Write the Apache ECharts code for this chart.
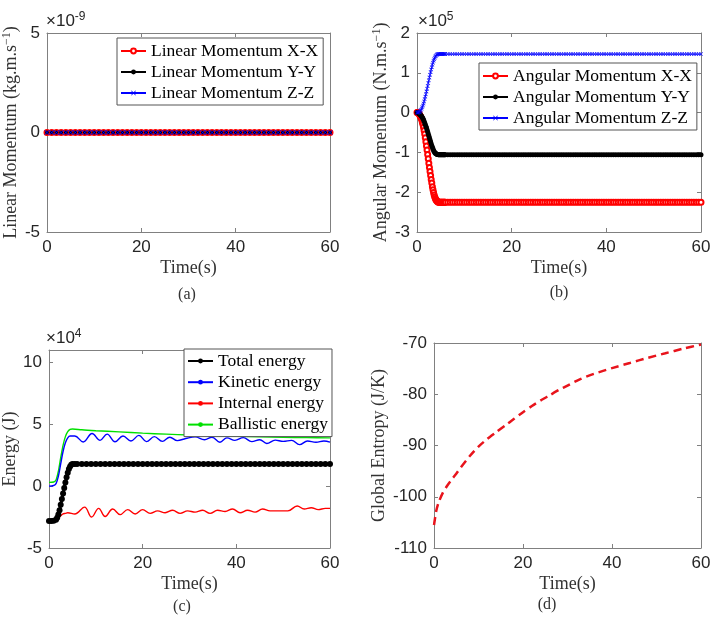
<!DOCTYPE html>
<html>
<head>
<meta charset="utf-8">
<script src="https://cdn.jsdelivr.net/npm/echarts@6/dist/echarts.min.js"></script>
<style>html,body{margin:0;padding:0;background:#fff}#c{width:714px;height:624px}</style>
</head>
<body>
<div id="c"></div>
<script>
// ---------- Panel (a): linear momentum (x1e-9) ----------
const timeA = [0,1,2,3,4,5,6,7,8,9,10,11,12,13,14,15,16,17,18,19,20,21,22,23,24,25,26,27,28,29,30,
  31,32,33,34,35,36,37,38,39,40,41,42,43,44,45,46,47,48,49,50,51,52,53,54,55,56,57,58,59,60];
const linMomXX = [0,0,0,0,0,0,0,0,0,0,0,0,0,0,0,0,0,0,0,0,0,0,0,0,0,0,0,0,0,0,0,0,0,0,0,0,0,0,0,0,0,0,0,0,0,0,0,0,0,0,0,0,0,0,0,0,0,0,0,0,0];
const linMomYY = [0,0,0,0,0,0,0,0,0,0,0,0,0,0,0,0,0,0,0,0,0,0,0,0,0,0,0,0,0,0,0,0,0,0,0,0,0,0,0,0,0,0,0,0,0,0,0,0,0,0,0,0,0,0,0,0,0,0,0,0,0];
const linMomZZ = [0,0,0,0,0,0,0,0,0,0,0,0,0,0,0,0,0,0,0,0,0,0,0,0,0,0,0,0,0,0,0,0,0,0,0,0,0,0,0,0,0,0,0,0,0,0,0,0,0,0,0,0,0,0,0,0,0,0,0,0,0];

// ---------- Panel (b): angular momentum (x1e5) ----------
const timeB = [0,0.125,0.25,0.375,0.5,0.625,0.75,0.875,1,1.125,1.25,1.375,1.5,1.625,1.75,1.875,2,2.125,2.25,2.375,2.5,2.625,2.75,2.875,
  3,3.125,3.25,3.375,3.5,3.625,3.75,3.875,4,4.125,4.25,4.375,4.5,
  4.625,4.75,4.875,5,5.125,5.25,5.375,5.5,5.625,5.75,5.875,6,
  6.5,7,7.5,8,8.5,9,9.5,10,10.5,11,11.5,12,
  12.5,13,13.5,14,14.5,15,15.5,16,16.5,17,17.5,18,
  18.5,19,19.5,20,20.5,21,21.5,22,22.5,23,23.5,24,
  24.5,25,25.5,26,26.5,27,27.5,28,28.5,29,29.5,30,
  30.5,31,31.5,32,32.5,33,33.5,34,34.5,35,35.5,36,
  36.5,37,37.5,38,38.5,39,39.5,40,40.5,41,41.5,42,
  42.5,43,43.5,44,44.5,45,45.5,46,46.5,47,47.5,48,
  48.5,49,49.5,50,50.5,51,51.5,52,52.5,53,53.5,54,
  54.5,55,55.5,56,56.5,57,57.5,58,58.5,59,59.5,60];
const angMomXX = [0,0,-0.01,-0.02,-0.04,-0.07,-0.1,-0.14,-0.18,-0.24,-0.3,-0.37,-0.45,-0.54,-0.63,-0.73,-0.84,-0.94,-1.05,-1.16,-1.27,-1.38,-1.48,-1.58,
  -1.68,-1.77,-1.86,-1.94,-2.01,-2.07,-2.12,-2.16,-2.19,-2.21,-2.23,-2.24,-2.25,
  -2.25,-2.25,-2.25,-2.25,-2.25,-2.25,-2.25,-2.25,-2.25,-2.25,-2.25,-2.25,
  -2.25,-2.25,-2.25,-2.25,-2.25,-2.25,-2.25,-2.25,-2.25,-2.25,-2.25,-2.25,
  -2.25,-2.25,-2.25,-2.25,-2.25,-2.25,-2.25,-2.25,-2.25,-2.25,-2.25,-2.25,
  -2.25,-2.25,-2.25,-2.25,-2.25,-2.25,-2.25,-2.25,-2.25,-2.25,-2.25,-2.25,
  -2.25,-2.25,-2.25,-2.25,-2.25,-2.25,-2.25,-2.25,-2.25,-2.25,-2.25,-2.25,
  -2.25,-2.25,-2.25,-2.25,-2.25,-2.25,-2.25,-2.25,-2.25,-2.25,-2.25,-2.25,
  -2.25,-2.25,-2.25,-2.25,-2.25,-2.25,-2.25,-2.25,-2.25,-2.25,-2.25,-2.25,
  -2.25,-2.25,-2.25,-2.25,-2.25,-2.25,-2.25,-2.25,-2.25,-2.25,-2.25,-2.25,
  -2.25,-2.25,-2.25,-2.25,-2.25,-2.25,-2.25,-2.25,-2.25,-2.25,-2.25,-2.25,
  -2.25,-2.25,-2.25,-2.25,-2.25,-2.25,-2.25,-2.25,-2.25,-2.25,-2.25,-2.25];
const angMomYY = [0,0,-0.01,-0.02,-0.03,-0.045,-0.06,-0.08,-0.1,-0.12,-0.15,-0.18,-0.22,-0.26,-0.3,-0.34,-0.38,-0.43,-0.48,-0.53,-0.58,-0.63,-0.68,-0.73,
  -0.78,-0.83,-0.87,-0.91,-0.95,-0.98,-1.0,-1.02,-1.03,-1.04,-1.05,-1.055,-1.06,
  -1.06,-1.06,-1.06,-1.06,-1.06,-1.06,-1.06,-1.06,-1.06,-1.06,-1.06,-1.06,
  -1.06,-1.06,-1.06,-1.06,-1.06,-1.06,-1.06,-1.06,-1.06,-1.06,-1.06,-1.06,
  -1.06,-1.06,-1.06,-1.06,-1.06,-1.06,-1.06,-1.06,-1.06,-1.06,-1.06,-1.06,
  -1.06,-1.06,-1.06,-1.06,-1.06,-1.06,-1.06,-1.06,-1.06,-1.06,-1.06,-1.06,
  -1.06,-1.06,-1.06,-1.06,-1.06,-1.06,-1.06,-1.06,-1.06,-1.06,-1.06,-1.06,
  -1.06,-1.06,-1.06,-1.06,-1.06,-1.06,-1.06,-1.06,-1.06,-1.06,-1.06,-1.06,
  -1.06,-1.06,-1.06,-1.06,-1.06,-1.06,-1.06,-1.06,-1.06,-1.06,-1.06,-1.06,
  -1.06,-1.06,-1.06,-1.06,-1.06,-1.06,-1.06,-1.06,-1.06,-1.06,-1.06,-1.06,
  -1.06,-1.06,-1.06,-1.06,-1.06,-1.06,-1.06,-1.06,-1.06,-1.06,-1.06,-1.06,
  -1.06,-1.06,-1.06,-1.06,-1.06,-1.06,-1.06,-1.06,-1.06,-1.06,-1.06,-1.06];
const angMomZZ = [0,0,0,0.01,0.02,0.03,0.05,0.07,0.1,0.14,0.18,0.23,0.28,0.34,0.4,0.46,0.53,0.6,0.67,0.74,0.81,0.88,0.95,1.02,
  1.08,1.14,1.2,1.25,1.3,1.34,1.38,1.41,1.43,1.45,1.46,1.465,1.47,
  1.47,1.47,1.47,1.47,1.47,1.47,1.47,1.47,1.47,1.47,1.47,1.47,
  1.47,1.47,1.47,1.47,1.47,1.47,1.47,1.47,1.47,1.47,1.47,1.47,
  1.47,1.47,1.47,1.47,1.47,1.47,1.47,1.47,1.47,1.47,1.47,1.47,
  1.47,1.47,1.47,1.47,1.47,1.47,1.47,1.47,1.47,1.47,1.47,1.47,
  1.47,1.47,1.47,1.47,1.47,1.47,1.47,1.47,1.47,1.47,1.47,1.47,
  1.47,1.47,1.47,1.47,1.47,1.47,1.47,1.47,1.47,1.47,1.47,1.47,
  1.47,1.47,1.47,1.47,1.47,1.47,1.47,1.47,1.47,1.47,1.47,1.47,
  1.47,1.47,1.47,1.47,1.47,1.47,1.47,1.47,1.47,1.47,1.47,1.47,
  1.47,1.47,1.47,1.47,1.47,1.47,1.47,1.47,1.47,1.47,1.47,1.47,
  1.47,1.47,1.47,1.47,1.47,1.47,1.47,1.47,1.47,1.47,1.47,1.47];

// ---------- Panel (c): energies (x1e4) ----------
const timeTotal = [0,0.5,1,1.5,1.75,2,2.25,2.5,2.75,3,3.25,3.5,3.75,4,4.25,4.5,4.75,5,5.5,6,
  7,8,9,10,11,12,13,14,15,
  16,17,18,19,20,21,22,23,24,
  25,26,27,28,29,30,31,32,33,
  34,35,36,37,38,39,40,41,42,
  43,44,45,46,47,48,49,50,51,
  52,53,54,55,56,57,58,59,60];
const totalEnergy = [-2.82,-2.82,-2.8,-2.72,-2.55,-2.3,-1.95,-1.5,-1.05,-0.6,-0.15,0.3,0.72,1.08,1.38,1.58,1.72,1.78,1.78,1.78,
  1.78,1.78,1.78,1.78,1.78,1.78,1.78,1.78,1.78,
  1.78,1.78,1.78,1.78,1.78,1.78,1.78,1.78,1.78,
  1.78,1.78,1.78,1.78,1.78,1.78,1.78,1.78,1.78,
  1.78,1.78,1.78,1.78,1.78,1.78,1.78,1.78,1.78,
  1.78,1.78,1.78,1.78,1.78,1.78,1.78,1.78,1.78,
  1.78,1.78,1.78,1.78,1.78,1.78,1.78,1.78,1.78];
const timeKinetic = [0,1,1.5,2,2.5,3,3.5,4,4.5,5.5,7.3,9.2,10.9,12.4,14.1,15.8,17.5,19.2,20.8,22.5,24.2,25.8,27.4,29.2,31.2,33.2,34.8,36.5,38,39.7,41.5,43.3,45,46.5,48.3,50,51.8,53.5,55.2,57,58.7,60];
const kineticEnergy = [0,0.05,0.2,0.8,1.8,2.8,3.5,3.9,4.05,4.05,3.57,4.25,3.7,4.2,3.58,4.05,3.65,4.1,3.6,4.0,3.62,3.95,3.68,3.85,3.98,3.75,3.95,3.55,3.9,3.7,3.92,3.6,3.75,3.45,3.72,3.62,3.7,3.35,3.65,3.55,3.65,3.55];
const timeInternal = [0,1,1.5,2,2.5,3,3.5,4,5.5,7.6,9.1,10.6,12,13.6,15.2,16.8,18.4,20,21.6,23.2,24.8,26.4,28,29.6,31.2,32.8,34.4,36,37.6,39.2,40.8,42.4,44,45.6,47.2,49,51,53,54.5,56,57.5,59,60];
const internalEnergy = [-2.82,-2.8,-2.75,-2.6,-2.4,-2.25,-2.2,-2.15,-2.25,-1.7,-2.5,-1.8,-2.45,-1.85,-2.3,-1.9,-2.25,-1.9,-2.2,-2.0,-2.15,-1.95,-2.2,-2.0,-2.1,-1.95,-2.2,-1.95,-2.05,-1.85,-2.15,-1.95,-2.1,-1.85,-2.0,-2.0,-2.0,-1.6,-1.85,-1.75,-1.9,-1.8,-1.8];
const timeBallistic = [0,1,1.5,2,2.5,3,3.5,4,4.5,5,7,10,15,20,25,30,35,40,45,50,55,60];
const ballisticEnergy = [0.3,0.33,0.5,1.2,2.3,3.3,4.0,4.4,4.58,4.62,4.55,4.48,4.38,4.28,4.2,4.13,4.07,4.02,3.98,3.95,3.92,3.9];

// ---------- Panel (d): global entropy ----------
const timeEntropy = [0,0.5,1,2,3,4,5,6,8,10,12,14,16,18,20,22,24,26,28,30,33,36,40,44,48,52,56,60];
const globalEntropy = [-105.5,-102.8,-101.2,-99.2,-97.8,-96.6,-95.5,-94.3,-92.1,-90.2,-88.7,-87.4,-86.1,-84.8,-83.5,-82.3,-81.2,-80.2,-79.2,-78.3,-77.0,-76.0,-74.9,-73.9,-72.9,-72.0,-71.1,-70.3];

// ---------- tick settings ----------
const xTicks = [0, 60, 20];
const yTicksA = [-5, 5, 5];
const yTicksB = [-3, 2, 1];
const yTicksC = [-5, 11, 5];
const yTicksD = [-110, -70, 10];

function zip(t, v) { const n = Math.min(t.length, v.length); const o = []; for (let i = 0; i < n; i++) o.push([t[i], v[i]]); return o; }

const AX = '#808080';
const SERIF = 'Liberation Serif';
const SANS = 'Liberation Sans';

function axisBase(grid, ticks, pos, labels) {
  return {
    type: 'value', gridIndex: grid, position: pos,
    min: ticks[0], max: ticks[1], interval: ticks[2],
    axisLine: { show: true, onZero: false, lineStyle: { color: AX, width: 1 } },
    axisTick: { show: true, inside: true, length: 4, lineStyle: { color: AX } },
    splitLine: { show: false },
    axisLabel: labels ? { show: true, color: '#262626', fontFamily: SANS, fontSize: 17, margin: 7,
      formatter: v => (Math.abs(v / ticks[2] - Math.round(v / ticks[2])) < 1e-9 ? String(v) : '') } : { show: false }
  };
}
function nameStyle() {
  return { fontFamily: SERIF, fontSize: 18, color: '#333',
    rich: { sup: { fontFamily: SERIF, fontSize: 12, color: '#333', verticalAlign: 'top', lineHeight: 20 } } };
}
const xAxes = [];
const yAxes = [];
[0,1,2,3].forEach(g => {
  const x = axisBase(g, xTicks, 'bottom', true);
  x.name = 'Time(s)'; x.nameLocation = 'middle'; x.nameGap = 27; x.nameTextStyle = nameStyle();
  xAxes.push(x);
});
[0,1,2,3].forEach(g => xAxes.push(axisBase(g, xTicks, 'top', false)));
const yT = [yTicksA, yTicksB, yTicksC, yTicksD];
const yNames = ['Linear Momentum (kg.m.s{sup|−1})', 'Angular Momentum (N.m.s{sup|−1})', 'Energy (J)', 'Global Entropy (J/K)'];
const yGaps = [26, 26, 30, 46];
[0,1,2,3].forEach(g => {
  const y = axisBase(g, yT[g], 'left', true);
  y.name = yNames[g]; y.nameLocation = 'middle'; y.nameGap = yGaps[g]; y.nameTextStyle = nameStyle();
  yAxes.push(y);
});
[0,1,2,3].forEach(g => yAxes.push(axisBase(g, yT[g], 'right', false)));

const xMark = 'path://M0,1L1,0L5,4L9,0L10,1L6,5L10,9L9,10L5,6L1,10L0,9L4,5Z';
const legendText = { fontFamily: SERIF, fontSize: 17.5, color: '#000' };

const option = {
  animation: false,
  backgroundColor: '#fff',
  grid: [
    { left: 45, top: 33, width: 285, height: 199 },
    { left: 417, top: 33, width: 284, height: 199 },
    { left: 45, top: 350, width: 285, height: 198 },
    { left: 434, top: 343, width: 267, height: 205 }
  ],
  xAxis: xAxes,
  yAxis: yAxes,
  legend: [
    { left: 117, top: 38, orient: 'vertical', data: ['Linear Momentum X-X','Linear Momentum Y-Y','Linear Momentum Z-Z'],
      borderColor: '#555', borderWidth: 1, borderRadius: 0, backgroundColor: '#fff', padding: [4, 5, 3, 3], itemGap: 3,
      itemWidth: 25, itemHeight: 6, textStyle: legendText },
    { left: 479, top: 63, orient: 'vertical', data: ['Angular Momentum X-X','Angular Momentum Y-Y','Angular Momentum Z-Z'],
      borderColor: '#555', borderWidth: 1, borderRadius: 0, backgroundColor: '#fff', padding: [4, 5, 3, 3], itemGap: 3,
      itemWidth: 25, itemHeight: 6, textStyle: legendText },
    { left: 184, top: 349, orient: 'vertical', data: ['Total energy','Kinetic energy','Internal energy','Ballistic energy'],
      borderColor: '#555', borderWidth: 1, borderRadius: 0, backgroundColor: '#fff', padding: [3, 4, 3, 3], itemGap: 3.2,
      itemWidth: 25, itemHeight: 6, textStyle: legendText }
  ],
  series: [
    { name: 'Linear Momentum X-X', type: 'line', xAxisIndex: 0, yAxisIndex: 0, data: zip(timeA, linMomXX),
      symbol: 'emptyCircle', symbolSize: 5, lineStyle: { color: '#ff0000', width: 1 }, itemStyle: { color: '#ff0000', borderWidth: 1 } },
    { name: 'Linear Momentum Y-Y', type: 'line', xAxisIndex: 0, yAxisIndex: 0, data: zip(timeA, linMomYY),
      symbol: 'circle', symbolSize: 4, lineStyle: { color: '#000', width: 1 }, itemStyle: { color: '#000' } },
    { name: 'Linear Momentum Z-Z', type: 'line', xAxisIndex: 0, yAxisIndex: 0, data: zip(timeA, linMomZZ),
      symbol: xMark, symbolSize: 5, lineStyle: { color: '#0000ff', width: 3 }, itemStyle: { color: '#0000ff' } },

    { name: 'Angular Momentum X-X', type: 'line', xAxisIndex: 1, yAxisIndex: 1, data: zip(timeB, angMomXX),
      symbol: 'emptyCircle', symbolSize: 5, lineStyle: { color: '#ff0000', width: 1 }, itemStyle: { color: '#ff0000', borderWidth: 1 } },
    { name: 'Angular Momentum Y-Y', type: 'line', xAxisIndex: 1, yAxisIndex: 1, data: zip(timeB, angMomYY),
      symbol: 'circle', symbolSize: 5, lineStyle: { color: '#000', width: 1.5 }, itemStyle: { color: '#000' } },
    { name: 'Angular Momentum Z-Z', type: 'line', xAxisIndex: 1, yAxisIndex: 1, data: zip(timeB, angMomZZ),
      symbol: xMark, symbolSize: 4, lineStyle: { color: '#0000ff', width: 1 }, itemStyle: { color: '#0000ff' } },

    { name: 'Ballistic energy', type: 'line', xAxisIndex: 2, yAxisIndex: 2, data: zip(timeBallistic, ballisticEnergy),
      smooth: 0.3, symbol: 'none', lineStyle: { color: '#00e000', width: 1.4 }, itemStyle: { color: '#00e000' } },
    { name: 'Kinetic energy', type: 'line', xAxisIndex: 2, yAxisIndex: 2, data: zip(timeKinetic, kineticEnergy),
      smooth: 0.4, symbol: 'none', lineStyle: { color: '#0000ff', width: 1.4 }, itemStyle: { color: '#0000ff' } },
    { name: 'Internal energy', type: 'line', xAxisIndex: 2, yAxisIndex: 2, data: zip(timeInternal, internalEnergy),
      smooth: 0.4, symbol: 'none', lineStyle: { color: '#ff0000', width: 1.4 }, itemStyle: { color: '#ff0000' } },
    { name: 'Total energy', type: 'line', xAxisIndex: 2, yAxisIndex: 2, data: zip(timeTotal, totalEnergy),
      symbol: 'circle', symbolSize: 6, lineStyle: { color: '#000', width: 3 }, itemStyle: { color: '#000' } },

    { name: 'Global Entropy', type: 'line', xAxisIndex: 3, yAxisIndex: 3, data: zip(timeEntropy, globalEntropy),
      smooth: 0.25, symbol: 'none', lineStyle: { color: '#e8141c', width: 2.5, type: [8, 5] } }
  ],
  graphic: [
    { type: 'text', left: 46, top: 11, style: { text: '×10{s|-9}', font: '17px "Liberation Sans"', fill: '#262626',
      rich: { s: { fontSize: 12, fontFamily: SANS, fill: '#262626', verticalAlign: 'top', lineHeight: 20 } } } },
    { type: 'text', left: 418, top: 11, style: { text: '×10{s|5}', font: '17px "Liberation Sans"', fill: '#262626',
      rich: { s: { fontSize: 12, fontFamily: SANS, fill: '#262626', verticalAlign: 'top', lineHeight: 20 } } } },
    { type: 'text', left: 46, top: 328, style: { text: '×10{s|4}', font: '17px "Liberation Sans"', fill: '#262626',
      rich: { s: { fontSize: 12, fontFamily: SANS, fill: '#262626', verticalAlign: 'top', lineHeight: 20 } } } },
    { type: 'text', x: 187, y: 295, style: { text: '(a)', font: '16px "Liberation Serif"', fill: '#333', align: 'center', verticalAlign: 'middle' } },
    { type: 'text', x: 559, y: 293, style: { text: '(b)', font: '16px "Liberation Serif"', fill: '#333', align: 'center', verticalAlign: 'middle' } },
    { type: 'text', x: 182, y: 607, style: { text: '(c)', font: '16px "Liberation Serif"', fill: '#333', align: 'center', verticalAlign: 'middle' } },
    { type: 'text', x: 547, y: 605, style: { text: '(d)', font: '16px "Liberation Serif"', fill: '#333', align: 'center', verticalAlign: 'middle' } }
  ]
};
const chart = echarts.init(document.getElementById('c'), null, { renderer: 'canvas' });
chart.setOption(option);
</script>
</body>
</html>
